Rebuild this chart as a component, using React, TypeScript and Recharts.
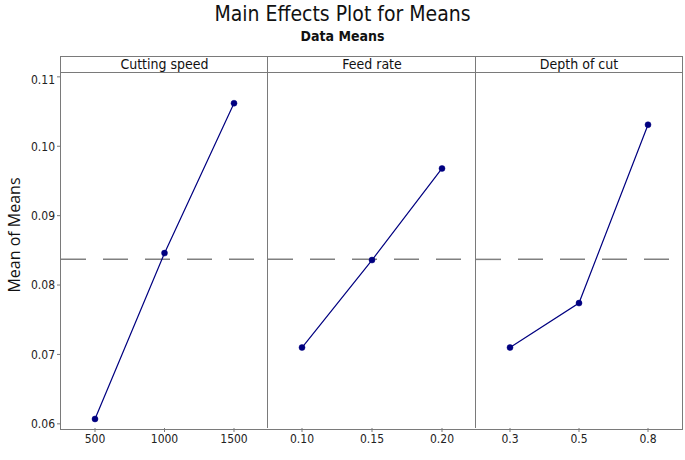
import { LineChart, Line, XAxis, YAxis, ReferenceLine } from "recharts";

const factorNames = ["Cutting speed", "Feed rate", "Depth of cut"];
const speedLevels = ["500", "1000", "1500"];
const speedMeans = [0.0607, 0.0846, 0.1062];
const feedLevels = ["0.10", "0.15", "0.20"];
const feedMeans = [0.071, 0.0836, 0.0968];
const depthLevels = ["0.3", "0.5", "0.8"];
const depthMeans = [0.071, 0.0774, 0.1031];
const grandMean = 0.0837;
const yTicks = [0.06, 0.07, 0.08, 0.09, 0.1, 0.11];

const levels = [speedLevels, feedLevels, depthLevels];
const means = [speedMeans, feedMeans, depthMeans];

const font = '"Liberation Sans Narrow", "DejaVu Sans Condensed", "Liberation Sans", sans-serif';
const frameColor = "#7a7a7a";
const lineColor = "#000080";

// panel edges in page pixels
const plotLeft = 61;
const plotTop = 72;
const plotBottom = 428;
const headerTop = 56;
const panelX = [61, 268, 476, 682];

const tickStyle = { fill: "#222", fontSize: 12, fontFamily: font };

const Panel = ({ idx }: { idx: number }) => {
    const first = idx === 0;
    const data = levels[idx].map((lv, i) => ({ level: lv, mean: means[idx][i] }));
    const left = first ? 0 : panelX[idx];
    const width = panelX[idx + 1] - left;
    const height = 460 - plotTop;
    return (
        <div style={{ position: "absolute", left, top: plotTop }}>
            <LineChart
                width={width}
                height={height}
                data={data}
                margin={{ top: 0, right: 0, left: 0, bottom: height - (plotBottom - plotTop) - 30 }}
            >
                <XAxis
                    dataKey="level"
                    axisLine={false}
                    tickLine={{ stroke: frameColor }}
                    tickSize={4}
                    tick={tickStyle}
                    padding={{ left: 34, right: 34 }}
                    height={30}
                    interval={0}
                />
                <YAxis
                    hide={!first}
                    width={plotLeft}
                    domain={[0.0594, 0.1107]}
                    allowDataOverflow
                    ticks={yTicks}
                    axisLine={false}
                    tickLine={{ stroke: frameColor }}
                    tickSize={4}
                    tick={tickStyle}
                    tickFormatter={(v: number) => v.toFixed(2)}
                />
                <ReferenceLine y={grandMean} stroke="#808080" strokeWidth={1.5} strokeDasharray="25 17" />
                <Line
                    dataKey="mean"
                    stroke={lineColor}
                    strokeWidth={1.2}
                    dot={{ r: 3, fill: lineColor, stroke: lineColor, strokeWidth: 0.5 }}
                    isAnimationActive={false}
                />
            </LineChart>
        </div>
    );
};

export default function App() {
    return (
        <div
            style={{
                position: "absolute",
                left: 0,
                top: 0,
                width: 685,
                height: 460,
                background: "#fff",
                fontFamily: font,
                color: "#111",
            }}
        >
            <div style={{ position: "absolute", top: 2, width: 685, textAlign: "center", fontSize: 21 }}>
                Main Effects Plot for Means
            </div>
            <div style={{ position: "absolute", top: 28, width: 685, textAlign: "center", fontSize: 14, fontWeight: "bold" }}>
                Data Means
            </div>
            <div
                style={{
                    position: "absolute",
                    left: 2,
                    top: 235,
                    width: 0,
                    height: 0,
                }}
            >
                <div
                    style={{
                        position: "absolute",
                        transform: "translate(-50%, -50%) rotate(-90deg)",
                        left: 12,
                        top: 0,
                        whiteSpace: "nowrap",
                        fontSize: 16,
                        fontFamily: '"Open Sans", "Liberation Sans", sans-serif',
                    }}
                >
                    Mean of Means
                </div>
            </div>
            {/* frame: header strip, plot box and panel dividers */}
            <div
                style={{
                    position: "absolute",
                    left: plotLeft - 1,
                    top: headerTop,
                    width: panelX[3] - plotLeft,
                    height: plotBottom - headerTop,
                    border: `1.5px solid ${frameColor}`,
                }}
            />
            <div
                style={{
                    position: "absolute",
                    left: plotLeft,
                    top: plotTop,
                    width: panelX[3] - plotLeft,
                    borderTop: `1.5px solid ${frameColor}`,
                }}
            />
            {[1, 2].map((i) => (
                <div
                    key={i}
                    style={{
                        position: "absolute",
                        left: panelX[i] - 1,
                        top: headerTop,
                        height: plotBottom - headerTop,
                        borderLeft: `1.5px solid ${frameColor}`,
                    }}
                />
            ))}
            {factorNames.map((name, i) => (
                <div
                    key={name}
                    style={{
                        position: "absolute",
                        left: panelX[i],
                        top: headerTop,
                        width: panelX[i + 1] - panelX[i],
                        height: plotTop - headerTop,
                        lineHeight: `${plotTop - headerTop + 1}px`,
                        textAlign: "center",
                        fontSize: 14,
                    }}
                >
                    {name}
                </div>
            ))}
            {[0, 1, 2].map((i) => (
                <Panel key={i} idx={i} />
            ))}
        </div>
    );
}
